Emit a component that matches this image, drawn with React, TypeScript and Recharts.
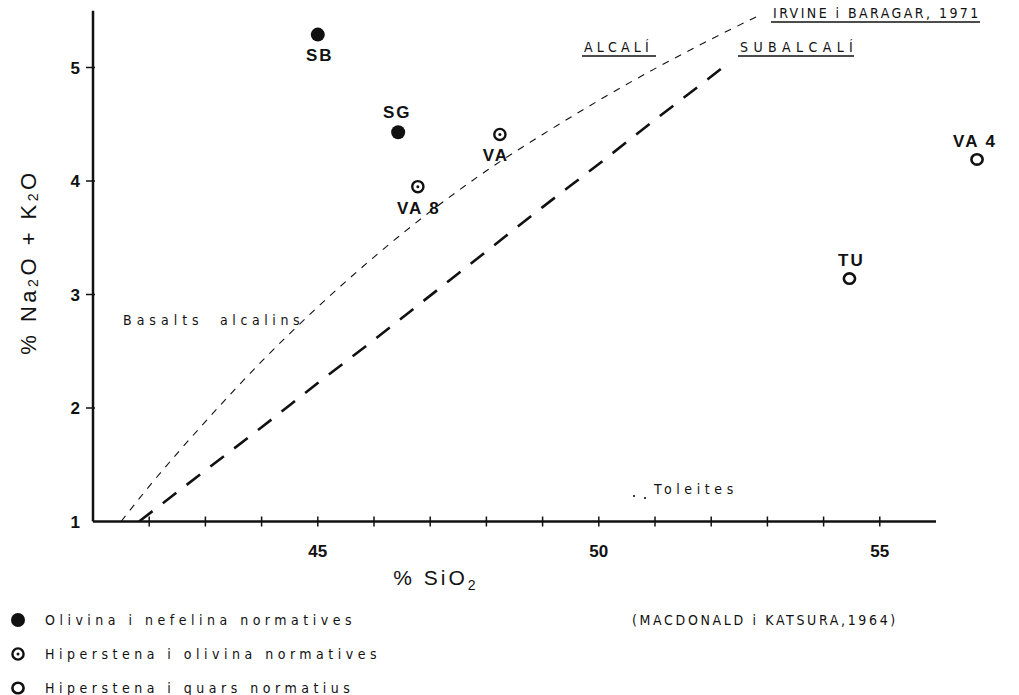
import { ComposedChart, Line, Scatter, XAxis, YAxis, ReferenceLine } from "recharts"

// samples: SiO2 vs Na2O + K2O
const samples = ["SB", "SG", "VA", "VA 8", "VA 4", "TU"]
const silica = [45.0, 46.43, 48.24, 46.78, 56.73, 54.46]
const alkali = [5.29, 4.43, 4.41, 3.95, 4.19, 3.14]
const norm = ["ne", "ne", "ol", "ol", "q", "q"]

// Irvine & Baragar (1971) boundary
const irvineSiO2 = [41.5, 42, 43, 44, 45, 46, 47, 48, 49, 50, 51, 52, 52.9]
const irvineAlk = [1.0, 1.31, 1.88, 2.41, 2.89, 3.33, 3.73, 4.09, 4.41, 4.71, 4.99, 5.25, 5.47]

// Macdonald & Katsura (1964) boundary
const mkSiO2 = [41.82, 43, 44, 45, 46, 47, 48, 49, 50, 51, 52, 52.28]
const mkAlk = [1.0, 1.45, 1.83, 2.22, 2.6, 2.99, 3.38, 3.77, 4.15, 4.54, 4.92, 5.03]

const xTicks = [42, 43, 44, 45, 46, 47, 48, 49, 50, 51, 52, 53, 54, 55]
const xLabelled = [45, 50, 55]
const yTicks = [1, 2, 3, 4, 5]

const legendItems = [
  { kind: "ne", text: "Olivina i nefelina normatives" },
  { kind: "ol", text: "Hiperstena i olivina normatives" },
  { kind: "q", text: "Hiperstena i quars normatius" },
]

const points = samples.map((name, i) => ({ name, x: silica[i], y: alkali[i], kind: norm[i] }))
const irvine = irvineSiO2.map((x, i) => ({ x, y: irvineAlk[i] }))
const macdonald = mkSiO2.map((x, i) => ({ x, y: mkAlk[i] }))

// label placement, relative to the marker centre
const labelOffset: Record<string, [number, number]> = {
  SB: [2, 26],
  SG: [-1, -14],
  VA: [-4, 27],
  "VA 8": [1, 27],
  "VA 4": [-2, -12],
  TU: [2, -13],
}

const INK = "#111"
const FONT = "'Liberation Sans', Arial, sans-serif"
const NARROW = "'Liberation Sans Narrow', 'DejaVu Sans Condensed', 'Liberation Sans', sans-serif"

function Marker({ kind, cx, cy }: { kind: string; cx: number; cy: number }) {
  if (kind === "ne") return <circle cx={cx} cy={cy} r={7} fill={INK} />
  if (kind === "ol")
    return (
      <g>
        <circle cx={cx} cy={cy} r={5.6} fill="#fff" stroke={INK} strokeWidth={2.4} />
        <circle cx={cx} cy={cy} r={1.5} fill={INK} />
      </g>
    )
  return <ellipse cx={cx} cy={cy} rx={5.6} ry={5.2} fill="#fff" stroke={INK} strokeWidth={2.6} />
}

// eslint-disable-next-line @typescript-eslint/no-explicit-any
function SampleShape(props: any) {
  const { cx, cy } = props
  const p = props.payload ?? props
  const [dx, dy] = labelOffset[p.name] ?? [0, 24]
  return (
    <g>
      <Marker kind={p.kind} cx={cx} cy={cy} />
      <text
        x={cx + dx}
        y={cy + dy}
        textAnchor="middle"
        fontFamily={FONT}
        fontWeight="bold"
        fontSize={17}
        letterSpacing={2}
        fill={INK}
      >
        {p.name}
      </text>
    </g>
  )
}

// eslint-disable-next-line @typescript-eslint/no-explicit-any
function XTick({ x, y, payload }: any) {
  return (
    <g>
      <line x1={x} x2={x} y1={y - 5} y2={y + 5} stroke={INK} strokeWidth={1.5} />
      {xLabelled.includes(payload.value) && (
        <text x={x} y={y + 35} textAnchor="middle" fontFamily={FONT} fontWeight="bold" fontSize={17} fill={INK}>
          {payload.value}
        </text>
      )}
    </g>
  )
}

// eslint-disable-next-line @typescript-eslint/no-explicit-any
function YTick({ x, y, payload }: any) {
  return (
    <g>
      {payload.value !== 1 && <line x1={x - 7} x2={x + 2} y1={y} y2={y} stroke={INK} strokeWidth={1.5} />}
      <text x={x - 13} y={y + 6} textAnchor="end" fontFamily={FONT} fontWeight="bold" fontSize={17} fill={INK}>
        {payload.value}
      </text>
    </g>
  )
}

// eslint-disable-next-line @typescript-eslint/no-explicit-any
function Underlined({ x, y, width, children, size = 14, spacing = 3 }: any) {
  return (
    <g>
      <text x={x} y={y} fontFamily={NARROW} fontSize={size} letterSpacing={spacing} fill={INK}>
        {children}
      </text>
      <line x1={x - 2} x2={x + width} y1={y + 4} y2={y + 4} stroke={INK} strokeWidth={1.3} />
    </g>
  )
}

export default function App() {
  return (
    <div style={{ position: "absolute", left: 0, top: 0, width: 1019, height: 695, background: "#fff" }}>
      <ComposedChart width={1019} height={695} margin={{ top: 10.75, right: 9.94, left: 0, bottom: 133.5 }}>
        <XAxis
          type="number"
          dataKey="x"
          domain={[41, 57.3]}
          ticks={xTicks}
          interval={0}
          allowDataOverflow
          axisLine={false}
          tickLine={false}
          tickSize={0}
          tickMargin={0}
          height={40}
          tick={XTick}
        />
        <YAxis
          type="number"
          dataKey="y"
          domain={[1, 5.5]}
          ticks={yTicks}
          interval={0}
          allowDataOverflow
          width={93}
          axisLine={{ stroke: INK, strokeWidth: 2.5 }}
          tickLine={false}
          tickSize={0}
          tickMargin={0}
          tick={YTick}
        />
        <ReferenceLine
          segment={[{ x: 41, y: 1 }, { x: 56, y: 1 }]}
          stroke={INK}
          strokeWidth={2.5}
          ifOverflow="visible"
        />
        <Line
          data={irvine}
          dataKey="y"
          type="monotone"
          stroke={INK}
          strokeWidth={1.1}
          strokeDasharray="7 7"
          dot={false}
          activeDot={false}
          isAnimationActive={false}
        />
        <Line
          data={macdonald}
          dataKey="y"
          type="monotone"
          stroke={INK}
          strokeWidth={2.6}
          strokeDasharray="17 13"
          dot={false}
          activeDot={false}
          isAnimationActive={false}
        />
        <Scatter data={points} dataKey="y" shape={SampleShape} isAnimationActive={false} />
      </ComposedChart>

      <svg
        width={1019}
        height={695}
        style={{ position: "absolute", left: 0, top: 0, pointerEvents: "none" }}
      >
        {/* axis titles */}
        <text
          x={28}
          y={262}
          transform="rotate(-90 28 262)"
          textAnchor="middle"
          dominantBaseline="central"
          fontFamily={FONT}
          fontSize={22}
          letterSpacing={3.5}
          fill={INK}
        >
          % Na
          <tspan fontSize={14} dy={5}>2</tspan>
          <tspan dy={-5}>O + K</tspan>
          <tspan fontSize={14} dy={5}>2</tspan>
          <tspan dy={-5}>O</tspan>
        </text>
        <text x={436} y={585} textAnchor="middle" fontFamily={FONT} fontSize={21} letterSpacing={3} fill={INK}>
          % SiO
          <tspan fontSize={14} dy={5}>2</tspan>
        </text>

        {/* field names */}
        <text x={123} y={325} fontFamily={NARROW} fontSize={14} letterSpacing={5} fill={INK}>
          Basalts
        </text>
        <text x={220} y={325} fontFamily={NARROW} fontSize={14} letterSpacing={4.6} fill={INK}>
          alcalins
        </text>
        <circle cx={634} cy={496} r={1.1} fill={INK} />
        <circle cx={645} cy={498} r={1.1} fill={INK} />
        <text x={654} y={494} fontFamily={NARROW} fontSize={14} letterSpacing={4.6} fill={INK}>
          Toleites
        </text>
        <Underlined x={584} y={52} width={72} spacing={4.2}>ALCALÍ</Underlined>
        <Underlined x={740} y={52} width={114} spacing={5.4}>SUBALCALÍ</Underlined>
        <Underlined x={773} y={18} width={207} spacing={2.45}>IRVINE i BARAGAR, 1971</Underlined>

        {/* legend */}
        {legendItems.map((item, i) => (
          <g key={item.kind}>
            <Marker kind={item.kind} cx={18} cy={620 + i * 34} />
            <text
              x={45}
              y={625 + i * 34}
              fontFamily={NARROW}
              fontSize={14}
              letterSpacing={4.5}
              fill={INK}
            >
              {item.text}
            </text>
          </g>
        ))}
        <text x={632} y={625} fontFamily={NARROW} fontSize={14} letterSpacing={2.65} fill={INK}>
          (MACDONALD i KATSURA,1964)
        </text>
      </svg>
    </div>
  )
}
